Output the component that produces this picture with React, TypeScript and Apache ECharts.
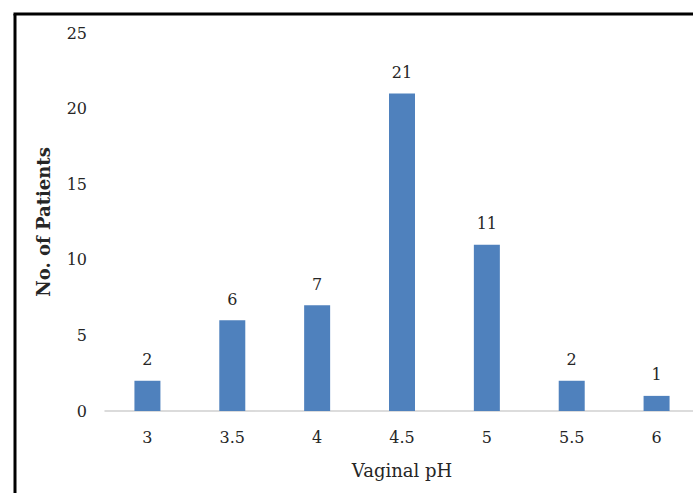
import React, { useEffect, useRef } from "react";
import * as echarts from "echarts";

const categories = ["3", "3.5", "4", "4.5", "5", "5.5", "6"];
const patients = [2, 6, 7, 21, 11, 2, 1];
const yTicks = [0, 5, 10, 15, 20, 25];

const FONT = "'DejaVu Serif', 'Liberation Serif', serif";

export default function App() {
  const ref = useRef<HTMLDivElement>(null);
  useEffect(() => {
    const chart = echarts.init(ref.current!, null, { renderer: "svg" });
    chart.setOption({
      animation: false,
      backgroundColor: "#ffffff",
      grid: { left: 105, top: 33, width: 594, bottom: 82, containLabel: false },
      xAxis: {
        type: "category",
        data: categories,
        name: "Vaginal pH",
        nameLocation: "middle",
        nameGap: 50,
        nameTextStyle: { fontFamily: FONT, fontSize: 18, color: "#262626" },
        axisLine: { lineStyle: { color: "#d0d0d0", width: 1.5 } },
        axisTick: { show: false },
        axisLabel: { fontFamily: FONT, fontSize: 16, color: "#262626", margin: 18 },
      },
      yAxis: {
        type: "value",
        min: yTicks[0],
        max: yTicks[yTicks.length - 1],
        interval: 5,
        name: "No. of Patients",
        nameLocation: "middle",
        nameGap: 53,
        nameTextStyle: { fontFamily: FONT, fontSize: 18, color: "#262626", fontWeight: "bold" },
        axisLine: { show: false },
        axisTick: { show: false },
        splitLine: { show: false },
        axisLabel: { fontFamily: FONT, fontSize: 16, color: "#262626", margin: 18 },
      },
      series: [
        {
          type: "bar",
          data: patients,
          barWidth: 26,
          itemStyle: { color: "#4f81bd" },
          label: {
            show: true,
            position: "top",
            distance: 13,
            fontFamily: FONT,
            fontSize: 16,
            color: "#262626",
          },
        },
      ],
      graphic: [
        { type: "line", shape: { x1: 15, y1: 14, x2: 15, y2: 500 }, style: { stroke: "#000", lineWidth: 3 } },
        { type: "line", shape: { x1: 13.5, y1: 14, x2: 720, y2: 14 }, style: { stroke: "#000", lineWidth: 3 } },
      ],
    });
    return () => chart.dispose();
  }, []);
  return (
    <div
      style={{ position: "fixed", left: 0, top: 0, width: 693, height: 493, overflow: "hidden", background: "#fff" }}
    >
      <div ref={ref} style={{ width: 720, height: 493 }} />
    </div>
  );
}
